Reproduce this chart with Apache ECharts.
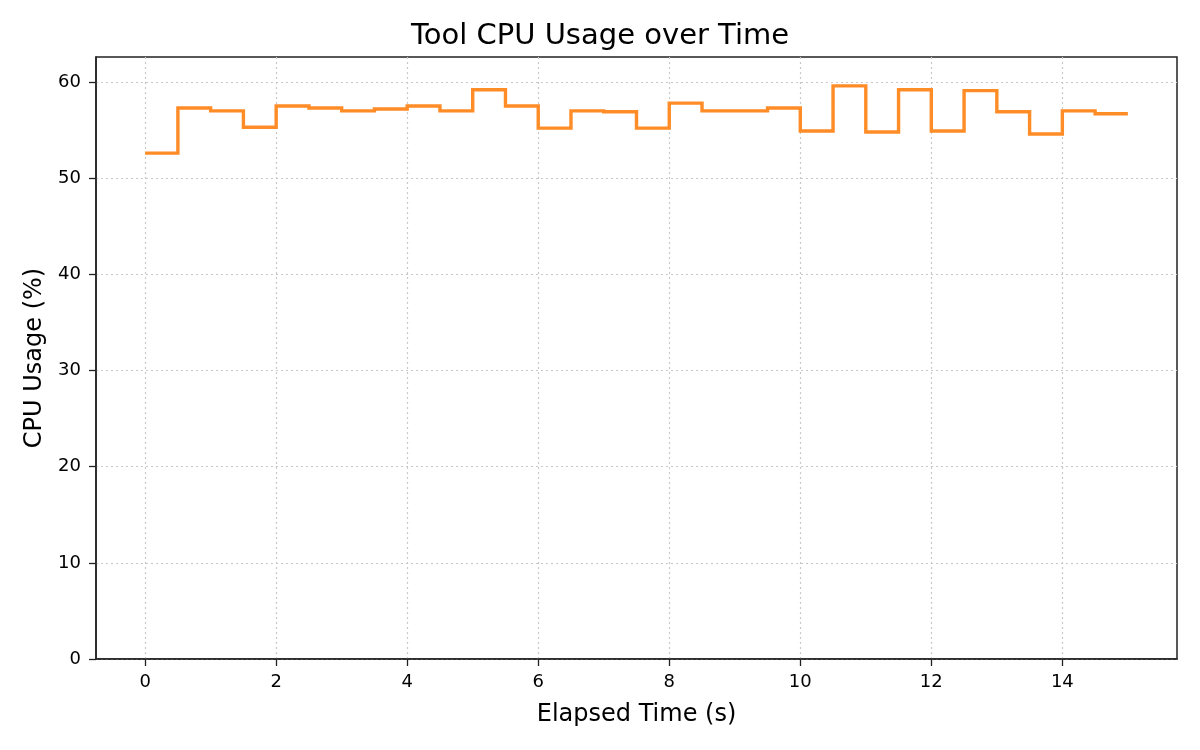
<!DOCTYPE html>
<html>
<head>
<meta charset="utf-8">
<script src="https://cdn.jsdelivr.net/npm/echarts@6/dist/echarts.min.js"></script>
<style>
  html, body { margin: 0; padding: 0; background: #fff; }
  #cpu-chart { width: 1200px; height: 750px; }
</style>
</head>
<body>
<div id="cpu-chart"></div>
<script>
// elapsed seconds, one sample every 0.5 s
const elapsed = [0, 0.5, 1, 1.5, 2, 2.5, 3, 3.5, 4, 4.5, 5, 5.5, 6, 6.5, 7, 7.5,
                 8, 8.5, 9, 9.5, 10, 10.5, 11, 11.5, 12, 12.5, 13, 13.5, 14, 14.5, 15];
// cpu usage in %, held until the next sample
const cpuUsage = [52.6, 57.3, 57.0, 55.3, 57.5, 57.3, 57.0, 57.2, 57.5, 57.0, 59.2, 57.5,
                  55.2, 57.0, 56.9, 55.2, 57.8, 57.0, 57.0, 57.3, 54.9, 59.6, 54.8, 59.2,
                  54.9, 59.1, 56.9, 54.6, 57.0, 56.7, 56.7];
const xTicks = [0, 2, 4, 6, 8, 10, 12, 14];
const yTicks = [0, 10, 20, 30, 40, 50, 60];

const chart = echarts.init(document.getElementById('cpu-chart'));

// the line series with step: 'end' dropped some small steps,
// so the step path is laid out here (post style) and drawn as a polyline
let stepCoords = [];
elapsed.forEach((t, i) => {
    stepCoords.push([t, cpuUsage[i]]);
    if (i < elapsed.length - 1) {
        stepCoords.push([elapsed[i + 1], cpuUsage[i]]);
    }
});

const font = 'DejaVu Sans';
const ink = '#222';
const gridColor = '#c8c8c8';

let option = {
    animation: false,
    textStyle: { fontFamily: font },
    title: {
        text: 'Tool CPU Usage over Time',
        left: 'center',
        top: 17,
        textStyle: { fontFamily: font, fontSize: 29, fontWeight: 'normal', color: '#000' }
    },
    grid: {
        left: 96, right: 23, top: 57, bottom: 91,
        show: true,
        borderColor: ink,
        borderWidth: 1.5,
        backgroundColor: 'transparent'
    },
    xAxis: {
        type: 'value',
        min: -0.75,
        max: 15.75,
        name: 'Elapsed Time (s)',
        nameLocation: 'middle',
        nameGap: 44,
        nameTextStyle: { fontSize: 24, color: '#000' },
        axisLine: { show: true, onZero: false, lineStyle: { color: ink, width: 1.5 } },
        axisTick: { show: true, length: 7, lineStyle: { color: ink, width: 1.3 }, customValues: xTicks },
        axisLabel: { fontSize: 18, color: '#000', margin: 14, customValues: xTicks },
        splitLine: { show: true, lineStyle: { color: gridColor, type: [2, 3], width: 1.2 } }
    },
    yAxis: {
        type: 'value',
        min: 0,
        max: 62.6,
        name: 'CPU Usage (%)',
        nameLocation: 'middle',
        nameGap: 49,
        nameTextStyle: { fontSize: 24, color: '#000' },
        axisLine: { show: true, onZero: false, lineStyle: { color: ink, width: 1.5 } },
        axisTick: { show: true, length: 7, lineStyle: { color: ink, width: 1.3 }, customValues: yTicks },
        axisLabel: { fontSize: 18, color: '#000', margin: 15, customValues: yTicks },
        splitLine: { show: true, lineStyle: { color: gridColor, type: [2, 3], width: 1.2 } }
    },
    series: [
        {
            name: 'CPU',
            type: 'lines',
            coordinateSystem: 'cartesian2d',
            polyline: true,
            silent: true,
            data: [{ coords: stepCoords }],
            lineStyle: { color: '#ff8c26', width: 3.4, opacity: 1, join: 'miter' }
        }
    ]
};

chart.setOption(option);
</script>
</body>
</html>
